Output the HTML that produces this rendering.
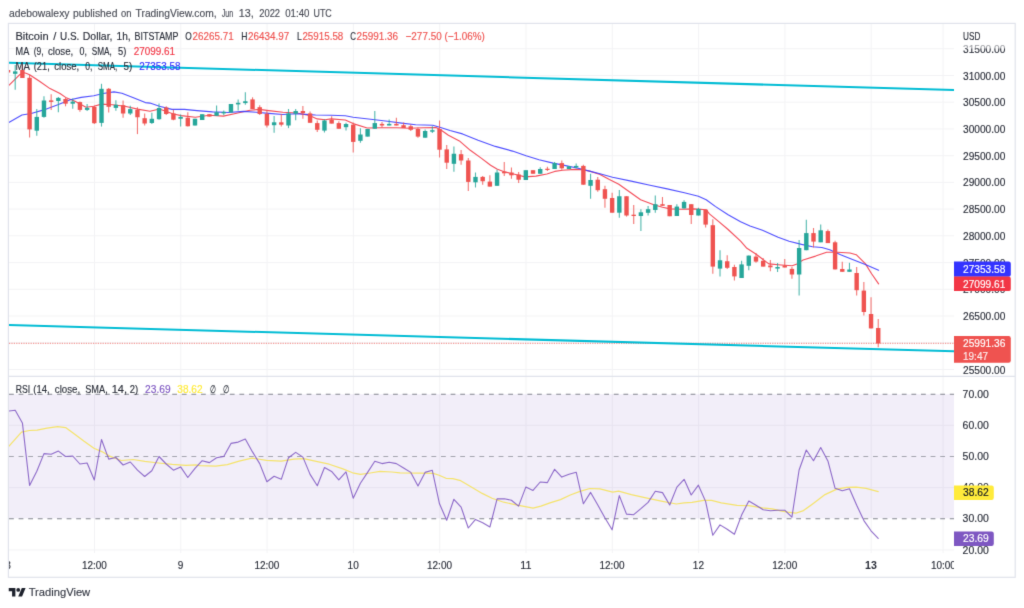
<!DOCTYPE html>
<html lang="en"><head><meta charset="utf-8"><title>BTCUSD chart</title>
<style>html,body{margin:0;padding:0;background:#fff}body{width:1024px;height:608px;overflow:hidden}svg{display:block}text{font-family:"Liberation Sans",Arial,sans-serif}</style></head><body>
<svg width="1024" height="608" viewBox="0 0 1024 608">
<rect width="1024" height="608" fill="#fff"/>
<filter id="soft" color-interpolation-filters="sRGB" x="0" y="0" width="100%" height="100%" filterUnits="userSpaceOnUse"><feConvolveMatrix order="3" kernelMatrix="0.0113 0.0838 0.0113 0.0838 0.6193 0.0838 0.0113 0.0838 0.0113" divisor="1" edgeMode="duplicate" preserveAlpha="true"/></filter><g filter="url(#soft)"><rect width="1024" height="608" fill="#fff"/>
<defs><clipPath id="plot"><rect x="9" y="24" width="945" height="352"/></clipPath><clipPath id="rsi"><rect x="9" y="377" width="945" height="173"/></clipPath><clipPath id="taxis"><rect x="9" y="551" width="945" height="26"/></clipPath></defs>
<line x1="94.5" y1="24" x2="94.5" y2="376" stroke="#f3f3f5" stroke-width="1"/>
<line x1="94.5" y1="377" x2="94.5" y2="553" stroke="#f3f3f5" stroke-width="1"/>
<line x1="180.8" y1="24" x2="180.8" y2="376" stroke="#f3f3f5" stroke-width="1"/>
<line x1="180.8" y1="377" x2="180.8" y2="553" stroke="#f3f3f5" stroke-width="1"/>
<line x1="267.1" y1="24" x2="267.1" y2="376" stroke="#f3f3f5" stroke-width="1"/>
<line x1="267.1" y1="377" x2="267.1" y2="553" stroke="#f3f3f5" stroke-width="1"/>
<line x1="353.4" y1="24" x2="353.4" y2="376" stroke="#f3f3f5" stroke-width="1"/>
<line x1="353.4" y1="377" x2="353.4" y2="553" stroke="#f3f3f5" stroke-width="1"/>
<line x1="439.7" y1="24" x2="439.7" y2="376" stroke="#f3f3f5" stroke-width="1"/>
<line x1="439.7" y1="377" x2="439.7" y2="553" stroke="#f3f3f5" stroke-width="1"/>
<line x1="526.0" y1="24" x2="526.0" y2="376" stroke="#f3f3f5" stroke-width="1"/>
<line x1="526.0" y1="377" x2="526.0" y2="553" stroke="#f3f3f5" stroke-width="1"/>
<line x1="612.3" y1="24" x2="612.3" y2="376" stroke="#f3f3f5" stroke-width="1"/>
<line x1="612.3" y1="377" x2="612.3" y2="553" stroke="#f3f3f5" stroke-width="1"/>
<line x1="698.6" y1="24" x2="698.6" y2="376" stroke="#f3f3f5" stroke-width="1"/>
<line x1="698.6" y1="377" x2="698.6" y2="553" stroke="#f3f3f5" stroke-width="1"/>
<line x1="784.9" y1="24" x2="784.9" y2="376" stroke="#f3f3f5" stroke-width="1"/>
<line x1="784.9" y1="377" x2="784.9" y2="553" stroke="#f3f3f5" stroke-width="1"/>
<line x1="871.2" y1="24" x2="871.2" y2="376" stroke="#f3f3f5" stroke-width="1"/>
<line x1="871.2" y1="377" x2="871.2" y2="553" stroke="#f3f3f5" stroke-width="1"/>
<line x1="943.1" y1="24" x2="943.1" y2="376" stroke="#f3f3f5" stroke-width="1"/>
<line x1="943.1" y1="377" x2="943.1" y2="553" stroke="#f3f3f5" stroke-width="1"/>
<line x1="9" y1="369.5" x2="954" y2="369.5" stroke="#f3f3f5" stroke-width="1"/>
<line x1="9" y1="342.8" x2="954" y2="342.8" stroke="#f3f3f5" stroke-width="1"/>
<line x1="9" y1="316.0" x2="954" y2="316.0" stroke="#f3f3f5" stroke-width="1"/>
<line x1="9" y1="289.3" x2="954" y2="289.3" stroke="#f3f3f5" stroke-width="1"/>
<line x1="9" y1="262.6" x2="954" y2="262.6" stroke="#f3f3f5" stroke-width="1"/>
<line x1="9" y1="235.8" x2="954" y2="235.8" stroke="#f3f3f5" stroke-width="1"/>
<line x1="9" y1="209.1" x2="954" y2="209.1" stroke="#f3f3f5" stroke-width="1"/>
<line x1="9" y1="182.4" x2="954" y2="182.4" stroke="#f3f3f5" stroke-width="1"/>
<line x1="9" y1="155.7" x2="954" y2="155.7" stroke="#f3f3f5" stroke-width="1"/>
<line x1="9" y1="128.9" x2="954" y2="128.9" stroke="#f3f3f5" stroke-width="1"/>
<line x1="9" y1="102.2" x2="954" y2="102.2" stroke="#f3f3f5" stroke-width="1"/>
<line x1="9" y1="75.5" x2="954" y2="75.5" stroke="#f3f3f5" stroke-width="1"/>
<line x1="9" y1="48.7" x2="954" y2="48.7" stroke="#f3f3f5" stroke-width="1"/>
<line x1="9" y1="425.3" x2="954" y2="425.3" stroke="#f3f3f5" stroke-width="1"/>
<line x1="9" y1="487.6" x2="954" y2="487.6" stroke="#f3f3f5" stroke-width="1"/>
<line x1="9" y1="549.9" x2="954" y2="549.9" stroke="#f3f3f5" stroke-width="1"/>
<rect x="9" y="394.2" width="945" height="124.2" fill="#7e57c2" fill-opacity="0.1"/>
<line x1="9" y1="394.2" x2="954" y2="394.2" stroke="#82858f" stroke-opacity="1" stroke-width="1.05" stroke-dasharray="4.8 4.8" stroke-dashoffset="0"/>
<line x1="9" y1="456.5" x2="954" y2="456.5" stroke="#82858f" stroke-opacity="0.7" stroke-width="1.05" stroke-dasharray="4.8 4.8" stroke-dashoffset="0"/>
<line x1="9" y1="518.7" x2="954" y2="518.7" stroke="#82858f" stroke-opacity="1" stroke-width="1.05" stroke-dasharray="4.8 4.8" stroke-dashoffset="0"/>
<text x="963.0" y="373.5" font-size="10.6" fill="#2b2f3a" stroke="#2b2f3a" stroke-width="0.15" textLength="42.3" lengthAdjust="spacingAndGlyphs">25500.00</text>
<text x="963.0" y="346.8" font-size="10.6" fill="#2b2f3a" stroke="#2b2f3a" stroke-width="0.15" textLength="42.3" lengthAdjust="spacingAndGlyphs">26000.00</text>
<text x="963.0" y="320.0" font-size="10.6" fill="#2b2f3a" stroke="#2b2f3a" stroke-width="0.15" textLength="42.3" lengthAdjust="spacingAndGlyphs">26500.00</text>
<text x="963.0" y="293.3" font-size="10.6" fill="#2b2f3a" stroke="#2b2f3a" stroke-width="0.15" textLength="42.3" lengthAdjust="spacingAndGlyphs">27000.00</text>
<text x="963.0" y="266.6" font-size="10.6" fill="#2b2f3a" stroke="#2b2f3a" stroke-width="0.15" textLength="42.3" lengthAdjust="spacingAndGlyphs">27500.00</text>
<text x="963.0" y="239.8" font-size="10.6" fill="#2b2f3a" stroke="#2b2f3a" stroke-width="0.15" textLength="42.3" lengthAdjust="spacingAndGlyphs">28000.00</text>
<text x="963.0" y="213.1" font-size="10.6" fill="#2b2f3a" stroke="#2b2f3a" stroke-width="0.15" textLength="42.3" lengthAdjust="spacingAndGlyphs">28500.00</text>
<text x="963.0" y="186.4" font-size="10.6" fill="#2b2f3a" stroke="#2b2f3a" stroke-width="0.15" textLength="42.3" lengthAdjust="spacingAndGlyphs">29000.00</text>
<text x="963.0" y="159.7" font-size="10.6" fill="#2b2f3a" stroke="#2b2f3a" stroke-width="0.15" textLength="42.3" lengthAdjust="spacingAndGlyphs">29500.00</text>
<text x="963.0" y="132.9" font-size="10.6" fill="#2b2f3a" stroke="#2b2f3a" stroke-width="0.15" textLength="42.3" lengthAdjust="spacingAndGlyphs">30000.00</text>
<text x="963.0" y="106.2" font-size="10.6" fill="#2b2f3a" stroke="#2b2f3a" stroke-width="0.15" textLength="42.3" lengthAdjust="spacingAndGlyphs">30500.00</text>
<text x="963.0" y="79.5" font-size="10.6" fill="#2b2f3a" stroke="#2b2f3a" stroke-width="0.15" textLength="42.3" lengthAdjust="spacingAndGlyphs">31000.00</text>
<text x="963.0" y="52.7" font-size="10.6" fill="#2b2f3a" stroke="#2b2f3a" stroke-width="0.15" textLength="42.3" lengthAdjust="spacingAndGlyphs">31500.00</text>
<rect x="960" y="28" width="50" height="20.5" fill="#fff" fill-opacity="0.55"/>
<text x="963.0" y="39.9" font-size="10.6" fill="#2b2f3a" stroke="#2b2f3a" stroke-width="0.15" textLength="17.3" lengthAdjust="spacingAndGlyphs">USD</text>
<text x="962.6" y="397.8" font-size="10.6" fill="#2b2f3a" stroke="#2b2f3a" stroke-width="0.15" textLength="26.2" lengthAdjust="spacingAndGlyphs">70.00</text>
<text x="962.6" y="428.9" font-size="10.6" fill="#2b2f3a" stroke="#2b2f3a" stroke-width="0.15" textLength="26.2" lengthAdjust="spacingAndGlyphs">60.00</text>
<text x="962.6" y="460.1" font-size="10.6" fill="#2b2f3a" stroke="#2b2f3a" stroke-width="0.15" textLength="26.2" lengthAdjust="spacingAndGlyphs">50.00</text>
<text x="962.6" y="491.2" font-size="10.6" fill="#2b2f3a" stroke="#2b2f3a" stroke-width="0.15" textLength="26.2" lengthAdjust="spacingAndGlyphs">40.00</text>
<text x="962.6" y="522.3" font-size="10.6" fill="#2b2f3a" stroke="#2b2f3a" stroke-width="0.15" textLength="26.2" lengthAdjust="spacingAndGlyphs">30.00</text>
<text x="962.6" y="553.5" font-size="10.6" fill="#2b2f3a" stroke="#2b2f3a" stroke-width="0.15" textLength="26.2" lengthAdjust="spacingAndGlyphs">20.00</text>
<g clip-path="url(#plot)">
<polyline fill="none" stroke="#f23645" stroke-width="1.1" stroke-opacity="0.9" stroke-linejoin="round" stroke-linecap="round" points="8.9,85.3 19.7,74.7 23.4,72.6 26.0,73.2 29.6,74.7 39.5,81.3 50.0,88.6 60.0,93.5 65.6,97.4 75.0,101.3 86.0,107.2 93.8,106.3 101.5,104.1 112.5,104.8 125.0,106.3 137.5,109.1 150.0,111.2 159.4,109.0 173.4,114.0 181.2,115.6 195.3,117.2 209.4,115.3 223.4,116.1 234.4,113.8 250.0,110.3 259.4,109.4 268.8,110.6 282.8,112.2 296.9,113.0 309.4,115.5 317.2,118.9 325.0,119.7 331.2,118.9 345.3,120.0 353.1,123.6 367.2,128.0 381.2,127.8 396.9,127.8 409.4,128.3 423.4,127.8 436.0,127.5 440.6,129.8 448.4,135.3 459.4,140.9 470.3,150.3 481.2,158.1 490.6,165.2 496.9,169.0 504.7,171.9 515.6,174.5 525.0,176.9 535.9,176.1 546.9,174.0 554.7,171.4 562.5,170.3 575.0,169.4 582.8,169.8 590.6,171.4 600.0,174.5 609.4,179.5 618.8,184.2 629.7,192.0 640.6,199.8 653.1,204.5 662.5,207.3 670.3,208.9 681.2,209.2 693.8,208.9 706.2,209.7 709.4,213.9 718.8,221.7 728.1,229.5 740.6,241.2 746.9,248.3 756.2,254.2 768.8,263.9 781.2,265.0 792.2,265.8 796.9,263.9 803.1,260.0 815.6,256.1 826.6,252.2 837.5,252.2 850.0,253.0 856.2,254.7 865.3,263.6 871.6,273.8 878.6,283.9"/>
<polyline fill="none" stroke="#3a3aff" stroke-width="1.1" stroke-opacity="0.9" stroke-linejoin="round" stroke-linecap="round" points="8.8,122.4 21.9,115.0 31.2,113.5 43.8,109.9 57.8,104.8 70.3,99.8 81.2,97.4 93.8,95.8 103.0,93.5 114.0,91.9 121.9,93.2 132.8,97.4 145.3,102.6 150.0,103.1 159.4,106.2 171.9,109.4 184.4,109.4 196.9,110.6 212.5,111.9 228.1,112.5 243.8,111.4 256.2,112.2 268.8,113.4 282.8,114.5 296.9,113.8 309.4,114.6 315.6,115.0 331.2,115.3 345.3,115.8 353.1,117.3 375.0,119.7 387.5,121.2 401.6,123.1 415.6,124.7 432.8,125.2 440.6,127.5 450.0,130.5 462.5,133.9 478.1,140.2 495.3,146.4 512.5,151.1 526.1,155.8 539.0,159.7 553.1,163.1 565.6,165.6 578.1,168.3 590.6,171.4 600.0,173.8 612.5,177.2 631.2,181.1 650.0,185.3 667.2,188.9 684.4,192.8 698.4,196.2 706.2,199.8 715.6,206.6 728.1,214.7 740.6,221.7 750.0,225.9 762.5,230.3 778.1,237.3 789.1,241.2 801.6,244.4 812.5,246.7 821.9,247.5 829.7,249.8 840.6,254.7 850.0,258.4 865.3,264.4 878.6,270.3"/>
<line x1="8.01" y1="70" x2="8.01" y2="72.5" stroke="#ef5350" stroke-width="1.1" stroke-opacity="0.8"/>
<rect x="5.81" y="70" width="4.4" height="2.50" fill="#ef5350"/>
<line x1="15.20" y1="64.9" x2="15.20" y2="89.7" stroke="#26a69a" stroke-width="1.1" stroke-opacity="0.8"/>
<rect x="13.00" y="71.4" width="4.4" height="2.40" fill="#26a69a"/>
<line x1="22.39" y1="64.2" x2="22.39" y2="78" stroke="#ef5350" stroke-width="1.1" stroke-opacity="0.8"/>
<rect x="20.19" y="70" width="4.4" height="8.00" fill="#ef5350"/>
<line x1="29.58" y1="75" x2="29.58" y2="137.6" stroke="#ef5350" stroke-width="1.1" stroke-opacity="0.8"/>
<rect x="27.38" y="77.8" width="4.4" height="51.60" fill="#ef5350"/>
<line x1="36.78" y1="109.1" x2="36.78" y2="135.7" stroke="#26a69a" stroke-width="1.1" stroke-opacity="0.8"/>
<rect x="34.58" y="116.9" width="4.4" height="13.80" fill="#26a69a"/>
<line x1="43.97" y1="96.3" x2="43.97" y2="117.7" stroke="#26a69a" stroke-width="1.1" stroke-opacity="0.8"/>
<rect x="41.77" y="100.5" width="4.4" height="16.40" fill="#26a69a"/>
<line x1="51.16" y1="94.3" x2="51.16" y2="109.9" stroke="#ef5350" stroke-width="1.1" stroke-opacity="0.8"/>
<rect x="48.96" y="100.4" width="4.4" height="1.50" fill="#ef5350"/>
<line x1="58.35" y1="96.9" x2="58.35" y2="112.25" stroke="#26a69a" stroke-width="1.1" stroke-opacity="0.8"/>
<rect x="56.15" y="97.9" width="4.4" height="3.10" fill="#26a69a"/>
<line x1="65.54" y1="97.9" x2="65.54" y2="106.3" stroke="#ef5350" stroke-width="1.1" stroke-opacity="0.8"/>
<rect x="63.34" y="99" width="4.4" height="4.70" fill="#ef5350"/>
<line x1="72.74" y1="98.5" x2="72.74" y2="108.8" stroke="#26a69a" stroke-width="1.1" stroke-opacity="0.8"/>
<rect x="70.54" y="101.6" width="4.4" height="2.10" fill="#26a69a"/>
<line x1="79.93" y1="101.6" x2="79.93" y2="111.8" stroke="#ef5350" stroke-width="1.1" stroke-opacity="0.8"/>
<rect x="77.73" y="102.1" width="4.4" height="7.80" fill="#ef5350"/>
<line x1="87.12" y1="104.1" x2="87.12" y2="111" stroke="#26a69a" stroke-width="1.1" stroke-opacity="0.8"/>
<rect x="84.92" y="107.9" width="4.4" height="2.00" fill="#26a69a"/>
<line x1="94.31" y1="105.7" x2="94.31" y2="124" stroke="#ef5350" stroke-width="1.1" stroke-opacity="0.8"/>
<rect x="92.11" y="106.8" width="4.4" height="16.40" fill="#ef5350"/>
<line x1="101.50" y1="83.8" x2="101.50" y2="126.6" stroke="#26a69a" stroke-width="1.1" stroke-opacity="0.8"/>
<rect x="99.30" y="88.8" width="4.4" height="34.10" fill="#26a69a"/>
<line x1="108.70" y1="88" x2="108.70" y2="112.6" stroke="#ef5350" stroke-width="1.1" stroke-opacity="0.8"/>
<rect x="106.50" y="88.8" width="4.4" height="18.00" fill="#ef5350"/>
<line x1="115.89" y1="100.2" x2="115.89" y2="110.7" stroke="#26a69a" stroke-width="1.1" stroke-opacity="0.8"/>
<rect x="113.69" y="104.75" width="4.4" height="3.15" fill="#26a69a"/>
<line x1="123.08" y1="100.5" x2="123.08" y2="117.7" stroke="#ef5350" stroke-width="1.1" stroke-opacity="0.8"/>
<rect x="120.88" y="105.2" width="4.4" height="8.30" fill="#ef5350"/>
<line x1="130.27" y1="105.7" x2="130.27" y2="115" stroke="#26a69a" stroke-width="1.1" stroke-opacity="0.8"/>
<rect x="128.07" y="109.1" width="4.4" height="4.40" fill="#26a69a"/>
<line x1="137.46" y1="107.25" x2="137.46" y2="134.1" stroke="#ef5350" stroke-width="1.1" stroke-opacity="0.8"/>
<rect x="135.26" y="109.9" width="4.4" height="7.35" fill="#ef5350"/>
<line x1="144.66" y1="113.5" x2="144.66" y2="125.5" stroke="#ef5350" stroke-width="1.1" stroke-opacity="0.8"/>
<rect x="142.46" y="118.2" width="4.4" height="5.30" fill="#ef5350"/>
<line x1="151.85" y1="112.8" x2="151.85" y2="124" stroke="#26a69a" stroke-width="1.1" stroke-opacity="0.8"/>
<rect x="149.65" y="118.8" width="4.4" height="4.20" fill="#26a69a"/>
<line x1="159.04" y1="103.6" x2="159.04" y2="119.7" stroke="#26a69a" stroke-width="1.1" stroke-opacity="0.8"/>
<rect x="156.84" y="108" width="4.4" height="11.20" fill="#26a69a"/>
<line x1="166.23" y1="106.25" x2="166.23" y2="115" stroke="#ef5350" stroke-width="1.1" stroke-opacity="0.8"/>
<rect x="164.03" y="107.5" width="4.4" height="6.50" fill="#ef5350"/>
<line x1="173.42" y1="109.8" x2="173.42" y2="120.3" stroke="#ef5350" stroke-width="1.1" stroke-opacity="0.8"/>
<rect x="171.22" y="113.4" width="4.4" height="6.30" fill="#ef5350"/>
<line x1="180.62" y1="114.5" x2="180.62" y2="126.6" stroke="#26a69a" stroke-width="1.1" stroke-opacity="0.8"/>
<rect x="178.42" y="116.9" width="4.4" height="1.85" fill="#26a69a"/>
<line x1="187.81" y1="112.2" x2="187.81" y2="126.6" stroke="#ef5350" stroke-width="1.1" stroke-opacity="0.8"/>
<rect x="185.61" y="117.7" width="4.4" height="8.55" fill="#ef5350"/>
<line x1="195.00" y1="118.75" x2="195.00" y2="125.5" stroke="#26a69a" stroke-width="1.1" stroke-opacity="0.8"/>
<rect x="192.80" y="118.75" width="4.4" height="6.75" fill="#26a69a"/>
<line x1="202.19" y1="114.2" x2="202.19" y2="120" stroke="#26a69a" stroke-width="1.1" stroke-opacity="0.8"/>
<rect x="199.99" y="114.2" width="4.4" height="5.80" fill="#26a69a"/>
<line x1="209.38" y1="114.2" x2="209.38" y2="116.6" stroke="#ef5350" stroke-width="1.1" stroke-opacity="0.8"/>
<rect x="207.18" y="114.2" width="4.4" height="2.40" fill="#ef5350"/>
<line x1="216.58" y1="105.6" x2="216.58" y2="115.8" stroke="#26a69a" stroke-width="1.1" stroke-opacity="0.8"/>
<rect x="214.38" y="112.2" width="4.4" height="3.60" fill="#26a69a"/>
<line x1="223.77" y1="110.6" x2="223.77" y2="115.3" stroke="#26a69a" stroke-width="1.1" stroke-opacity="0.8"/>
<rect x="221.57" y="111.9" width="4.4" height="1.50" fill="#26a69a"/>
<line x1="230.96" y1="104" x2="230.96" y2="112.5" stroke="#26a69a" stroke-width="1.1" stroke-opacity="0.8"/>
<rect x="228.76" y="104" width="4.4" height="8.50" fill="#26a69a"/>
<line x1="238.15" y1="99.4" x2="238.15" y2="110.6" stroke="#26a69a" stroke-width="1.1" stroke-opacity="0.8"/>
<rect x="235.95" y="102.8" width="4.4" height="1.60" fill="#26a69a"/>
<line x1="245.34" y1="92.3" x2="245.34" y2="104.7" stroke="#26a69a" stroke-width="1.1" stroke-opacity="0.8"/>
<rect x="243.14" y="101.25" width="4.4" height="1.85" fill="#26a69a"/>
<line x1="252.54" y1="97.3" x2="252.54" y2="109" stroke="#ef5350" stroke-width="1.1" stroke-opacity="0.8"/>
<rect x="250.34" y="99.4" width="4.4" height="9.60" fill="#ef5350"/>
<line x1="259.73" y1="105.2" x2="259.73" y2="115" stroke="#ef5350" stroke-width="1.1" stroke-opacity="0.8"/>
<rect x="257.53" y="107.2" width="4.4" height="6.80" fill="#ef5350"/>
<line x1="266.92" y1="111" x2="266.92" y2="127.5" stroke="#ef5350" stroke-width="1.1" stroke-opacity="0.8"/>
<rect x="264.72" y="113.75" width="4.4" height="11.75" fill="#ef5350"/>
<line x1="274.11" y1="116" x2="274.11" y2="132.8" stroke="#26a69a" stroke-width="1.1" stroke-opacity="0.8"/>
<rect x="271.91" y="122.3" width="4.4" height="2.90" fill="#26a69a"/>
<line x1="281.30" y1="114" x2="281.30" y2="126.6" stroke="#ef5350" stroke-width="1.1" stroke-opacity="0.8"/>
<rect x="279.10" y="122.3" width="4.4" height="2.40" fill="#ef5350"/>
<line x1="288.50" y1="109" x2="288.50" y2="128.1" stroke="#26a69a" stroke-width="1.1" stroke-opacity="0.8"/>
<rect x="286.30" y="113.4" width="4.4" height="12.10" fill="#26a69a"/>
<line x1="295.69" y1="109" x2="295.69" y2="120.3" stroke="#26a69a" stroke-width="1.1" stroke-opacity="0.8"/>
<rect x="293.49" y="111" width="4.4" height="2.75" fill="#26a69a"/>
<line x1="302.88" y1="106" x2="302.88" y2="118.8" stroke="#ef5350" stroke-width="1.1" stroke-opacity="0.8"/>
<rect x="300.68" y="111" width="4.4" height="2.20" fill="#ef5350"/>
<line x1="310.07" y1="111.6" x2="310.07" y2="122.8" stroke="#ef5350" stroke-width="1.1" stroke-opacity="0.8"/>
<rect x="307.87" y="113.4" width="4.4" height="9.40" fill="#ef5350"/>
<line x1="317.26" y1="120.5" x2="317.26" y2="131.9" stroke="#ef5350" stroke-width="1.1" stroke-opacity="0.8"/>
<rect x="315.06" y="123.1" width="4.4" height="6.70" fill="#ef5350"/>
<line x1="324.46" y1="119.4" x2="324.46" y2="132.5" stroke="#26a69a" stroke-width="1.1" stroke-opacity="0.8"/>
<rect x="322.26" y="120.5" width="4.4" height="10.10" fill="#26a69a"/>
<line x1="331.65" y1="116.25" x2="331.65" y2="123.6" stroke="#ef5350" stroke-width="1.1" stroke-opacity="0.8"/>
<rect x="329.45" y="120" width="4.4" height="3.60" fill="#ef5350"/>
<line x1="338.84" y1="121.25" x2="338.84" y2="128.75" stroke="#ef5350" stroke-width="1.1" stroke-opacity="0.8"/>
<rect x="336.64" y="123.1" width="4.4" height="5.65" fill="#ef5350"/>
<line x1="346.03" y1="122.8" x2="346.03" y2="130.6" stroke="#26a69a" stroke-width="1.1" stroke-opacity="0.8"/>
<rect x="343.83" y="124" width="4.4" height="3.20" fill="#26a69a"/>
<line x1="353.22" y1="122.5" x2="353.22" y2="152.5" stroke="#ef5350" stroke-width="1.1" stroke-opacity="0.8"/>
<rect x="351.02" y="124.7" width="4.4" height="17.20" fill="#ef5350"/>
<line x1="360.42" y1="128.3" x2="360.42" y2="142.8" stroke="#26a69a" stroke-width="1.1" stroke-opacity="0.8"/>
<rect x="358.22" y="134.5" width="4.4" height="6.30" fill="#26a69a"/>
<line x1="367.61" y1="129" x2="367.61" y2="136.6" stroke="#26a69a" stroke-width="1.1" stroke-opacity="0.8"/>
<rect x="365.41" y="129" width="4.4" height="7.60" fill="#26a69a"/>
<line x1="374.80" y1="111.1" x2="374.80" y2="128.75" stroke="#26a69a" stroke-width="1.1" stroke-opacity="0.8"/>
<rect x="372.60" y="123.1" width="4.4" height="5.65" fill="#26a69a"/>
<line x1="381.99" y1="122" x2="381.99" y2="127.5" stroke="#ef5350" stroke-width="1.1" stroke-opacity="0.8"/>
<rect x="379.79" y="123.9" width="4.4" height="1.60" fill="#ef5350"/>
<line x1="389.18" y1="119.4" x2="389.18" y2="125.5" stroke="#26a69a" stroke-width="1.1" stroke-opacity="0.8"/>
<rect x="386.98" y="123.9" width="4.4" height="1.60" fill="#26a69a"/>
<line x1="396.38" y1="117.8" x2="396.38" y2="125.5" stroke="#ef5350" stroke-width="1.1" stroke-opacity="0.8"/>
<rect x="394.18" y="123.9" width="4.4" height="1.60" fill="#ef5350"/>
<line x1="403.57" y1="122.5" x2="403.57" y2="128" stroke="#ef5350" stroke-width="1.1" stroke-opacity="0.8"/>
<rect x="401.37" y="125.2" width="4.4" height="2.80" fill="#ef5350"/>
<line x1="410.76" y1="124.4" x2="410.76" y2="131" stroke="#ef5350" stroke-width="1.1" stroke-opacity="0.8"/>
<rect x="408.56" y="126.25" width="4.4" height="3.55" fill="#ef5350"/>
<line x1="417.95" y1="127.5" x2="417.95" y2="137.7" stroke="#ef5350" stroke-width="1.1" stroke-opacity="0.8"/>
<rect x="415.75" y="129" width="4.4" height="7.60" fill="#ef5350"/>
<line x1="425.14" y1="129.4" x2="425.14" y2="137.7" stroke="#26a69a" stroke-width="1.1" stroke-opacity="0.8"/>
<rect x="422.94" y="131" width="4.4" height="6.70" fill="#26a69a"/>
<line x1="432.34" y1="126.25" x2="432.34" y2="133" stroke="#26a69a" stroke-width="1.1" stroke-opacity="0.8"/>
<rect x="430.14" y="130.2" width="4.4" height="1.50" fill="#26a69a"/>
<line x1="439.53" y1="120.5" x2="439.53" y2="157.5" stroke="#ef5350" stroke-width="1.1" stroke-opacity="0.8"/>
<rect x="437.33" y="129" width="4.4" height="20.70" fill="#ef5350"/>
<line x1="446.72" y1="145" x2="446.72" y2="168.9" stroke="#ef5350" stroke-width="1.1" stroke-opacity="0.8"/>
<rect x="444.52" y="149.4" width="4.4" height="13.30" fill="#ef5350"/>
<line x1="453.91" y1="146.5" x2="453.91" y2="171.75" stroke="#26a69a" stroke-width="1.1" stroke-opacity="0.8"/>
<rect x="451.71" y="153.75" width="4.4" height="10.05" fill="#26a69a"/>
<line x1="461.10" y1="150" x2="461.10" y2="164.7" stroke="#ef5350" stroke-width="1.1" stroke-opacity="0.8"/>
<rect x="458.90" y="154.2" width="4.4" height="6.30" fill="#ef5350"/>
<line x1="468.30" y1="158.1" x2="468.30" y2="190.9" stroke="#ef5350" stroke-width="1.1" stroke-opacity="0.8"/>
<rect x="466.10" y="160.5" width="4.4" height="21.40" fill="#ef5350"/>
<line x1="475.49" y1="172.5" x2="475.49" y2="187.5" stroke="#26a69a" stroke-width="1.1" stroke-opacity="0.8"/>
<rect x="473.29" y="176.9" width="4.4" height="5.40" fill="#26a69a"/>
<line x1="482.68" y1="176.1" x2="482.68" y2="184.7" stroke="#ef5350" stroke-width="1.1" stroke-opacity="0.8"/>
<rect x="480.48" y="176.9" width="4.4" height="4.35" fill="#ef5350"/>
<line x1="489.87" y1="175.3" x2="489.87" y2="186.6" stroke="#ef5350" stroke-width="1.1" stroke-opacity="0.8"/>
<rect x="487.67" y="181.6" width="4.4" height="5.00" fill="#ef5350"/>
<line x1="497.06" y1="169.8" x2="497.06" y2="185.8" stroke="#26a69a" stroke-width="1.1" stroke-opacity="0.8"/>
<rect x="494.86" y="172.5" width="4.4" height="13.30" fill="#26a69a"/>
<line x1="504.26" y1="162" x2="504.26" y2="176.1" stroke="#ef5350" stroke-width="1.1" stroke-opacity="0.8"/>
<rect x="502.06" y="171.7" width="4.4" height="1.60" fill="#ef5350"/>
<line x1="511.45" y1="167.5" x2="511.45" y2="178.75" stroke="#ef5350" stroke-width="1.1" stroke-opacity="0.8"/>
<rect x="509.25" y="172.5" width="4.4" height="2.80" fill="#ef5350"/>
<line x1="518.64" y1="171.9" x2="518.64" y2="183.1" stroke="#ef5350" stroke-width="1.1" stroke-opacity="0.8"/>
<rect x="516.44" y="174.5" width="4.4" height="5.20" fill="#ef5350"/>
<line x1="525.83" y1="170.2" x2="525.83" y2="180" stroke="#26a69a" stroke-width="1.1" stroke-opacity="0.8"/>
<rect x="523.63" y="170.2" width="4.4" height="9.80" fill="#26a69a"/>
<line x1="533.02" y1="170.2" x2="533.02" y2="173.75" stroke="#ef5350" stroke-width="1.1" stroke-opacity="0.8"/>
<rect x="530.82" y="170.2" width="4.4" height="3.55" fill="#ef5350"/>
<line x1="540.22" y1="167.2" x2="540.22" y2="173.75" stroke="#26a69a" stroke-width="1.1" stroke-opacity="0.8"/>
<rect x="538.02" y="169" width="4.4" height="4.75" fill="#26a69a"/>
<line x1="547.41" y1="166.7" x2="547.41" y2="171" stroke="#ef5350" stroke-width="1.1" stroke-opacity="0.8"/>
<rect x="545.21" y="168.75" width="4.4" height="1.20" fill="#ef5350"/>
<line x1="554.60" y1="162" x2="554.60" y2="169" stroke="#26a69a" stroke-width="1.1" stroke-opacity="0.8"/>
<rect x="552.40" y="163.1" width="4.4" height="5.90" fill="#26a69a"/>
<line x1="561.79" y1="160.5" x2="561.79" y2="169.8" stroke="#ef5350" stroke-width="1.1" stroke-opacity="0.8"/>
<rect x="559.59" y="163.1" width="4.4" height="5.20" fill="#ef5350"/>
<line x1="568.98" y1="166.25" x2="568.98" y2="169" stroke="#26a69a" stroke-width="1.1" stroke-opacity="0.8"/>
<rect x="566.78" y="166.25" width="4.4" height="2.75" fill="#26a69a"/>
<line x1="576.18" y1="163.6" x2="576.18" y2="168.3" stroke="#26a69a" stroke-width="1.1" stroke-opacity="0.8"/>
<rect x="573.98" y="165.9" width="4.4" height="1.60" fill="#26a69a"/>
<line x1="583.37" y1="164.7" x2="583.37" y2="184.7" stroke="#ef5350" stroke-width="1.1" stroke-opacity="0.8"/>
<rect x="581.17" y="165.9" width="4.4" height="18.80" fill="#ef5350"/>
<line x1="590.56" y1="173.75" x2="590.56" y2="198.75" stroke="#26a69a" stroke-width="1.1" stroke-opacity="0.8"/>
<rect x="588.36" y="180" width="4.4" height="5.80" fill="#26a69a"/>
<line x1="597.75" y1="176.9" x2="597.75" y2="191.7" stroke="#ef5350" stroke-width="1.1" stroke-opacity="0.8"/>
<rect x="595.55" y="179.7" width="4.4" height="10.50" fill="#ef5350"/>
<line x1="604.94" y1="185.85" x2="604.94" y2="207.7" stroke="#ef5350" stroke-width="1.1" stroke-opacity="0.8"/>
<rect x="602.74" y="189.2" width="4.4" height="9.55" fill="#ef5350"/>
<line x1="612.14" y1="192.8" x2="612.14" y2="212.7" stroke="#ef5350" stroke-width="1.1" stroke-opacity="0.8"/>
<rect x="609.94" y="198" width="4.4" height="14.70" fill="#ef5350"/>
<line x1="619.33" y1="190" x2="619.33" y2="217.8" stroke="#26a69a" stroke-width="1.1" stroke-opacity="0.8"/>
<rect x="617.13" y="196.25" width="4.4" height="16.45" fill="#26a69a"/>
<line x1="626.52" y1="196.25" x2="626.52" y2="216.6" stroke="#ef5350" stroke-width="1.1" stroke-opacity="0.8"/>
<rect x="624.32" y="196.25" width="4.4" height="19.25" fill="#ef5350"/>
<line x1="633.71" y1="205" x2="633.71" y2="224" stroke="#ef5350" stroke-width="1.1" stroke-opacity="0.8"/>
<rect x="631.51" y="214.7" width="4.4" height="1.30" fill="#ef5350"/>
<line x1="640.90" y1="209.2" x2="640.90" y2="231.1" stroke="#26a69a" stroke-width="1.1" stroke-opacity="0.8"/>
<rect x="638.70" y="212.3" width="4.4" height="3.70" fill="#26a69a"/>
<line x1="648.10" y1="206.1" x2="648.10" y2="215.5" stroke="#26a69a" stroke-width="1.1" stroke-opacity="0.8"/>
<rect x="645.90" y="209.2" width="4.4" height="3.60" fill="#26a69a"/>
<line x1="655.29" y1="195.5" x2="655.29" y2="212.7" stroke="#26a69a" stroke-width="1.1" stroke-opacity="0.8"/>
<rect x="653.09" y="204.2" width="4.4" height="5.80" fill="#26a69a"/>
<line x1="662.48" y1="197" x2="662.48" y2="205.8" stroke="#ef5350" stroke-width="1.1" stroke-opacity="0.8"/>
<rect x="660.28" y="204.2" width="4.4" height="1.60" fill="#ef5350"/>
<line x1="669.67" y1="205" x2="669.67" y2="216.25" stroke="#ef5350" stroke-width="1.1" stroke-opacity="0.8"/>
<rect x="667.47" y="205" width="4.4" height="11.25" fill="#ef5350"/>
<line x1="676.86" y1="204.2" x2="676.86" y2="216" stroke="#26a69a" stroke-width="1.1" stroke-opacity="0.8"/>
<rect x="674.66" y="206.6" width="4.4" height="9.40" fill="#26a69a"/>
<line x1="684.06" y1="200.3" x2="684.06" y2="208.4" stroke="#26a69a" stroke-width="1.1" stroke-opacity="0.8"/>
<rect x="681.86" y="201.9" width="4.4" height="6.50" fill="#26a69a"/>
<line x1="691.25" y1="204.2" x2="691.25" y2="224" stroke="#ef5350" stroke-width="1.1" stroke-opacity="0.8"/>
<rect x="689.05" y="204.2" width="4.4" height="10.80" fill="#ef5350"/>
<line x1="698.44" y1="207.7" x2="698.44" y2="215.5" stroke="#26a69a" stroke-width="1.1" stroke-opacity="0.8"/>
<rect x="696.24" y="208.9" width="4.4" height="6.60" fill="#26a69a"/>
<line x1="705.63" y1="209.7" x2="705.63" y2="227.5" stroke="#ef5350" stroke-width="1.1" stroke-opacity="0.8"/>
<rect x="703.43" y="209.7" width="4.4" height="14.90" fill="#ef5350"/>
<line x1="712.82" y1="219.2" x2="712.82" y2="273.75" stroke="#ef5350" stroke-width="1.1" stroke-opacity="0.8"/>
<rect x="710.62" y="225.2" width="4.4" height="41.40" fill="#ef5350"/>
<line x1="720.02" y1="250.3" x2="720.02" y2="276.4" stroke="#26a69a" stroke-width="1.1" stroke-opacity="0.8"/>
<rect x="717.82" y="260.3" width="4.4" height="8.30" fill="#26a69a"/>
<line x1="727.21" y1="255.3" x2="727.21" y2="268.9" stroke="#ef5350" stroke-width="1.1" stroke-opacity="0.8"/>
<rect x="725.01" y="261.25" width="4.4" height="6.55" fill="#ef5350"/>
<line x1="734.40" y1="264.7" x2="734.40" y2="280.6" stroke="#ef5350" stroke-width="1.1" stroke-opacity="0.8"/>
<rect x="732.20" y="267" width="4.4" height="9.40" fill="#ef5350"/>
<line x1="741.59" y1="260.8" x2="741.59" y2="278" stroke="#26a69a" stroke-width="1.1" stroke-opacity="0.8"/>
<rect x="739.39" y="264.4" width="4.4" height="13.60" fill="#26a69a"/>
<line x1="748.78" y1="255.6" x2="748.78" y2="270.2" stroke="#26a69a" stroke-width="1.1" stroke-opacity="0.8"/>
<rect x="746.58" y="255.6" width="4.4" height="10.20" fill="#26a69a"/>
<line x1="755.98" y1="253" x2="755.98" y2="262.7" stroke="#ef5350" stroke-width="1.1" stroke-opacity="0.8"/>
<rect x="753.78" y="256.6" width="4.4" height="5.00" fill="#ef5350"/>
<line x1="763.17" y1="258.1" x2="763.17" y2="266.6" stroke="#ef5350" stroke-width="1.1" stroke-opacity="0.8"/>
<rect x="760.97" y="260.8" width="4.4" height="5.80" fill="#ef5350"/>
<line x1="770.36" y1="260" x2="770.36" y2="271.25" stroke="#ef5350" stroke-width="1.1" stroke-opacity="0.8"/>
<rect x="768.16" y="265.5" width="4.4" height="1.80" fill="#ef5350"/>
<line x1="777.55" y1="263.1" x2="777.55" y2="272" stroke="#26a69a" stroke-width="1.1" stroke-opacity="0.8"/>
<rect x="775.35" y="267" width="4.4" height="1.60" fill="#26a69a"/>
<line x1="784.74" y1="258.9" x2="784.74" y2="267.5" stroke="#ef5350" stroke-width="1.1" stroke-opacity="0.8"/>
<rect x="782.54" y="265.5" width="4.4" height="2.00" fill="#ef5350"/>
<line x1="791.94" y1="267" x2="791.94" y2="278.75" stroke="#ef5350" stroke-width="1.1" stroke-opacity="0.8"/>
<rect x="789.74" y="268.9" width="4.4" height="5.60" fill="#ef5350"/>
<line x1="799.13" y1="240" x2="799.13" y2="295.6" stroke="#26a69a" stroke-width="1.1" stroke-opacity="0.8"/>
<rect x="796.93" y="248" width="4.4" height="26.50" fill="#26a69a"/>
<line x1="806.32" y1="219.8" x2="806.32" y2="250.2" stroke="#26a69a" stroke-width="1.1" stroke-opacity="0.8"/>
<rect x="804.12" y="233.1" width="4.4" height="17.10" fill="#26a69a"/>
<line x1="813.51" y1="228" x2="813.51" y2="247.5" stroke="#ef5350" stroke-width="1.1" stroke-opacity="0.8"/>
<rect x="811.31" y="233.1" width="4.4" height="8.50" fill="#ef5350"/>
<line x1="820.70" y1="224.4" x2="820.70" y2="242.3" stroke="#26a69a" stroke-width="1.1" stroke-opacity="0.8"/>
<rect x="818.50" y="230.3" width="4.4" height="12.00" fill="#26a69a"/>
<line x1="827.90" y1="229.5" x2="827.90" y2="243.1" stroke="#ef5350" stroke-width="1.1" stroke-opacity="0.8"/>
<rect x="825.70" y="231.1" width="4.4" height="12.00" fill="#ef5350"/>
<line x1="835.09" y1="240.8" x2="835.09" y2="269.4" stroke="#ef5350" stroke-width="1.1" stroke-opacity="0.8"/>
<rect x="832.89" y="242.3" width="4.4" height="27.10" fill="#ef5350"/>
<line x1="842.28" y1="261.7" x2="842.28" y2="271.8" stroke="#ef5350" stroke-width="1.1" stroke-opacity="0.8"/>
<rect x="840.08" y="269" width="4.4" height="2.80" fill="#ef5350"/>
<line x1="849.47" y1="262.8" x2="849.47" y2="271.8" stroke="#26a69a" stroke-width="1.1" stroke-opacity="0.8"/>
<rect x="847.27" y="269.5" width="4.4" height="2.30" fill="#26a69a"/>
<line x1="856.66" y1="267" x2="856.66" y2="295.6" stroke="#ef5350" stroke-width="1.1" stroke-opacity="0.8"/>
<rect x="854.46" y="273" width="4.4" height="17.20" fill="#ef5350"/>
<line x1="863.86" y1="281.9" x2="863.86" y2="315.6" stroke="#ef5350" stroke-width="1.1" stroke-opacity="0.8"/>
<rect x="861.66" y="290.6" width="4.4" height="21.40" fill="#ef5350"/>
<line x1="871.05" y1="297.2" x2="871.05" y2="328.4" stroke="#ef5350" stroke-width="1.1" stroke-opacity="0.8"/>
<rect x="868.85" y="314" width="4.4" height="14.40" fill="#ef5350"/>
<line x1="878.24" y1="319" x2="878.24" y2="347.2" stroke="#ef5350" stroke-width="1.1" stroke-opacity="0.8"/>
<rect x="876.04" y="328" width="4.4" height="15.50" fill="#ef5350"/>
<line x1="9" y1="343.4" x2="954" y2="343.4" stroke="#ef5350" stroke-width="1.2" stroke-opacity="0.6" stroke-dasharray="1.2 1.2"/>
<line x1="9" y1="62.8" x2="954" y2="90.1" stroke="#00bcd4" stroke-width="2.05"/>
<line x1="9" y1="325" x2="954" y2="351.3" stroke="#00bcd4" stroke-width="2.05"/>
</g>
<g clip-path="url(#rsi)">
<polyline fill="none" stroke="#f5e36b" stroke-width="1.2" stroke-opacity="1" stroke-linejoin="round" stroke-linecap="round" points="8.8,446.4 21.5,432.1 29.4,430.5 37.2,430.1 47.0,428.2 57.7,426.6 65.6,427.6 74.4,434.0 84.1,441.3 93.9,448.3 101.8,451.6 109.6,456.1 121.3,460.5 133.1,459.5 144.8,461.4 158.5,463.0 172.2,464.4 185.9,465.3 195.7,464.8 200.0,465.6 215.7,466.1 227.4,464.6 239.1,461.1 251.9,458.1 266.5,460.3 281.2,461.2 293.9,459.1 303.7,458.7 317.4,461.6 329.2,464.2 342.9,468.9 352.6,472.8 360.5,474.4 370.3,473.0 380.0,471.4 391.8,472.0 400.0,472.9 419.6,473.2 433.3,473.4 439.1,475.2 446.0,478.3 452.8,478.7 460.7,480.7 470.5,486.5 482.2,493.4 492.0,498.3 503.7,502.2 517.4,505.1 533.1,508.1 540.9,506.1 550.7,502.6 560.5,499.6 570.3,495.0 580.0,491.4 589.8,488.5 600.0,488.9 612.7,492.2 618.6,491.2 631.3,494.6 647.0,498.1 662.6,501.4 676.3,504.0 684.1,502.8 692.0,502.4 703.7,500.4 711.5,500.4 721.3,502.8 737.0,505.3 748.7,505.7 762.4,507.9 772.2,508.9 782.0,511.2 787.8,512.2 795.7,513.2 803.5,510.6 813.3,503.4 825.0,494.6 836.8,489.1 846.5,487.3 856.3,487.1 866.1,488.3 878.2,491.6"/>
<polyline fill="none" stroke="#7e57c2" stroke-width="1.1" stroke-opacity="0.88" stroke-linejoin="round" stroke-linecap="round" points="8.0,411.1 15.2,410.2 22.4,422.9 29.6,485.5 36.8,471.2 44.0,453.6 51.2,454.2 58.4,451.1 65.5,456.5 72.7,456.0 79.9,464.0 87.1,463.0 94.3,480.0 101.5,439.5 108.7,459.1 115.9,457.5 123.1,465.0 130.3,462.0 137.5,470.2 144.7,476.5 151.8,470.8 159.0,456.5 166.2,464.0 173.4,470.2 180.6,466.9 187.8,477.5 195.0,468.3 202.2,460.7 209.4,462.6 216.6,457.7 223.8,456.4 231.0,443.4 238.2,442.1 245.3,439.1 252.5,451.9 259.7,463.6 266.9,481.8 274.1,476.3 281.3,479.3 288.5,457.7 295.7,452.4 302.9,457.1 310.1,474.4 317.3,485.7 324.5,467.5 331.6,471.4 338.8,479.8 346.0,471.8 353.2,498.2 360.4,483.2 367.6,472.4 374.8,461.2 382.0,463.6 389.2,462.2 396.4,463.6 403.6,468.0 410.8,472.4 418.0,485.9 425.1,472.4 432.3,470.3 439.5,503.8 446.7,520.2 453.9,499.3 461.1,507.1 468.3,528.0 475.5,519.4 482.7,522.7 489.9,527.0 497.1,498.9 504.3,498.7 511.4,500.2 518.6,506.1 525.8,487.1 533.0,490.4 540.2,482.0 547.4,482.6 554.6,469.3 561.8,477.1 569.0,474.2 576.2,472.2 583.4,503.8 590.6,492.4 597.8,505.1 604.9,517.7 612.1,529.8 619.3,495.6 626.5,514.1 633.7,514.7 640.9,508.7 648.1,502.4 655.3,491.2 662.5,492.6 669.7,505.0 676.9,487.1 684.1,479.3 691.2,495.0 698.4,485.2 705.6,501.4 712.8,535.3 720.0,524.9 727.2,529.2 734.4,534.3 741.6,515.1 748.8,501.0 756.0,505.3 763.2,509.8 770.4,510.8 777.6,510.2 784.7,510.2 791.9,517.1 799.1,470.0 806.3,450.0 813.5,460.7 820.7,447.6 827.9,460.9 835.1,488.3 842.3,490.7 849.5,488.7 856.7,505.3 863.9,520.6 871.0,530.8 878.2,538.4"/>
</g>
<line x1="9" y1="376.3" x2="1015" y2="376.3" stroke="#e0e3eb" stroke-width="1.2"/>
<rect x="8.4" y="23.4" width="1006.8" height="553.9" fill="none" stroke="#e0e3eb" stroke-width="1.2"/>
<path d="M954 261.6H1008.6Q1010.8 261.6 1010.8 263.8V274.6Q1010.8 276.8 1008.6 276.8H954Z" fill="#3333ff"/>
<text x="963.0" y="273.1" font-size="10.6" fill="#fff" stroke="#fff" stroke-width="0.15" textLength="42.3" lengthAdjust="spacingAndGlyphs">27353.58</text>
<path d="M954 276.6H1008.6Q1010.8 276.6 1010.8 278.8V288.9Q1010.8 291.1 1008.6 291.1H954Z" fill="#f23645"/>
<text x="963.0" y="287.9" font-size="10.6" fill="#fff" stroke="#fff" stroke-width="0.15" textLength="42.3" lengthAdjust="spacingAndGlyphs">27099.61</text>
<path d="M954 336H1008.6Q1010.8 336 1010.8 338.2V360.5Q1010.8 362.7 1008.6 362.7H954Z" fill="#ef5350"/>
<text x="963.0" y="347.4" font-size="10.6" fill="#fff" stroke="#fff" stroke-width="0.15" textLength="42.3" lengthAdjust="spacingAndGlyphs">25991.36</text>
<text x="963.0" y="360.0" font-size="10.6" fill="#fff" stroke="#fff" stroke-width="0.15" textLength="25.0" lengthAdjust="spacingAndGlyphs" fill-opacity="0.85">19:47</text>
<path d="M954 485.5H991.6Q993.8 485.5 993.8 487.7V497.8Q993.8 500 991.6 500H954Z" fill="#ffeb3b"/>
<text x="963.0" y="496.4" font-size="10.6" fill="#131722" stroke="#131722" stroke-width="0.15" textLength="25.8" lengthAdjust="spacingAndGlyphs">38.62</text>
<path d="M954 531.5H991.6Q993.8 531.5 993.8 533.7V543.8Q993.8 546 991.6 546H954Z" fill="#7e57c2"/>
<text x="963.0" y="542.4" font-size="10.6" fill="#fff" stroke="#fff" stroke-width="0.15" textLength="25.8" lengthAdjust="spacingAndGlyphs">23.69</text>
<g clip-path="url(#taxis)">
<text x="5.2" y="569.0" font-size="10.6" fill="#2b2f3a" stroke="#2b2f3a" stroke-width="0.15" textLength="5.6" lengthAdjust="spacingAndGlyphs">8</text>
<text x="81.9" y="569.0" font-size="10.6" fill="#2b2f3a" stroke="#2b2f3a" stroke-width="0.15" textLength="25.0" lengthAdjust="spacingAndGlyphs">12:00</text>
<text x="177.8" y="569.0" font-size="10.6" fill="#2b2f3a" stroke="#2b2f3a" stroke-width="0.15" textLength="5.6" lengthAdjust="spacingAndGlyphs">9</text>
<text x="254.4" y="569.0" font-size="10.6" fill="#2b2f3a" stroke="#2b2f3a" stroke-width="0.15" textLength="25.0" lengthAdjust="spacingAndGlyphs">12:00</text>
<text x="347.6" y="569.0" font-size="10.6" fill="#2b2f3a" stroke="#2b2f3a" stroke-width="0.15" textLength="11.2" lengthAdjust="spacingAndGlyphs">10</text>
<text x="427.0" y="569.0" font-size="10.6" fill="#2b2f3a" stroke="#2b2f3a" stroke-width="0.15" textLength="25.0" lengthAdjust="spacingAndGlyphs">12:00</text>
<text x="520.2" y="569.0" font-size="10.6" fill="#2b2f3a" stroke="#2b2f3a" stroke-width="0.15" textLength="11.2" lengthAdjust="spacingAndGlyphs">11</text>
<text x="599.5" y="569.0" font-size="10.6" fill="#2b2f3a" stroke="#2b2f3a" stroke-width="0.15" textLength="25.0" lengthAdjust="spacingAndGlyphs">12:00</text>
<text x="692.8" y="569.0" font-size="10.6" fill="#2b2f3a" stroke="#2b2f3a" stroke-width="0.15" textLength="11.2" lengthAdjust="spacingAndGlyphs">12</text>
<text x="772.2" y="569.0" font-size="10.6" fill="#2b2f3a" stroke="#2b2f3a" stroke-width="0.15" textLength="25.0" lengthAdjust="spacingAndGlyphs">12:00</text>
<text x="865.1" y="569.0" font-size="10.6" fill="#2b2f3a" stroke="#2b2f3a" stroke-width="0" font-weight="bold" textLength="11.8" lengthAdjust="spacingAndGlyphs">13</text>
<text x="930.9" y="569.0" font-size="10.6" fill="#2b2f3a" stroke="#2b2f3a" stroke-width="0.15" textLength="25.0" lengthAdjust="spacingAndGlyphs">10:00</text>
</g>
<text x="9.0" y="16.5" font-size="10.6" fill="#4a4d57" stroke="#4a4d57" stroke-width="0.15" textLength="60.5" lengthAdjust="spacingAndGlyphs">adebowalexy</text>
<text x="73.0" y="16.5" font-size="10.6" fill="#4a4d57" stroke="#4a4d57" stroke-width="0.15" textLength="44.4" lengthAdjust="spacingAndGlyphs">published</text>
<text x="120.9" y="16.5" font-size="10.6" fill="#4a4d57" stroke="#4a4d57" stroke-width="0.15" textLength="10.5" lengthAdjust="spacingAndGlyphs">on</text>
<text x="135.6" y="16.5" font-size="10.6" fill="#4a4d57" stroke="#4a4d57" stroke-width="0.15" textLength="81.0" lengthAdjust="spacingAndGlyphs">TradingView.com,</text>
<text x="221.7" y="16.5" font-size="10.6" fill="#4a4d57" stroke="#4a4d57" stroke-width="0.15" textLength="11.5" lengthAdjust="spacingAndGlyphs">Jun</text>
<text x="238.7" y="16.5" font-size="10.6" fill="#4a4d57" stroke="#4a4d57" stroke-width="0.15" textLength="15.0" lengthAdjust="spacingAndGlyphs">13,</text>
<text x="259.2" y="16.5" font-size="10.6" fill="#4a4d57" stroke="#4a4d57" stroke-width="0.15" textLength="20.9" lengthAdjust="spacingAndGlyphs">2022</text>
<text x="285.2" y="16.5" font-size="10.6" fill="#4a4d57" stroke="#4a4d57" stroke-width="0.15" textLength="24.2" lengthAdjust="spacingAndGlyphs">01:40</text>
<text x="313.5" y="16.5" font-size="10.6" fill="#4a4d57" stroke="#4a4d57" stroke-width="0.15" textLength="18.3" lengthAdjust="spacingAndGlyphs">UTC</text>
<text x="15.4" y="40.1" font-size="10.6" fill="#2b2f3a" stroke="#2b2f3a" stroke-width="0.15" textLength="33.2" lengthAdjust="spacingAndGlyphs">Bitcoin</text>
<text x="53.2" y="40.1" font-size="10.6" fill="#2b2f3a" stroke="#2b2f3a" stroke-width="0.15" textLength="3.1" lengthAdjust="spacingAndGlyphs">/</text>
<text x="60.0" y="40.1" font-size="10.6" fill="#2b2f3a" stroke="#2b2f3a" stroke-width="0.15" textLength="19.3" lengthAdjust="spacingAndGlyphs">U.S.</text>
<text x="82.8" y="40.1" font-size="10.6" fill="#2b2f3a" stroke="#2b2f3a" stroke-width="0.15" textLength="29.7" lengthAdjust="spacingAndGlyphs">Dollar,</text>
<text x="116.6" y="40.1" font-size="10.6" fill="#2b2f3a" stroke="#2b2f3a" stroke-width="0.15" textLength="14.1" lengthAdjust="spacingAndGlyphs">1h,</text>
<text x="134.6" y="40.1" font-size="10.6" fill="#2b2f3a" stroke="#2b2f3a" stroke-width="0.15" textLength="43.8" lengthAdjust="spacingAndGlyphs">BITSTAMP</text>
<text x="185.3" y="40.1" font-size="10.6" fill="#2b2f3a" stroke="#2b2f3a" stroke-width="0.15" textLength="6.5" lengthAdjust="spacingAndGlyphs">O</text>
<text x="192.6" y="40.1" font-size="10.6" fill="#ef5350" stroke="#ef5350" stroke-width="0.15" textLength="41.0" lengthAdjust="spacingAndGlyphs">26265.71</text>
<text x="241.2" y="40.1" font-size="10.6" fill="#2b2f3a" stroke="#2b2f3a" stroke-width="0.15" textLength="6.2" lengthAdjust="spacingAndGlyphs">H</text>
<text x="248.1" y="40.1" font-size="10.6" fill="#ef5350" stroke="#ef5350" stroke-width="0.15" textLength="41.2" lengthAdjust="spacingAndGlyphs">26434.97</text>
<text x="297.0" y="40.1" font-size="10.6" fill="#2b2f3a" stroke="#2b2f3a" stroke-width="0.15" textLength="4.8" lengthAdjust="spacingAndGlyphs">L</text>
<text x="302.4" y="40.1" font-size="10.6" fill="#ef5350" stroke="#ef5350" stroke-width="0.15" textLength="40.9" lengthAdjust="spacingAndGlyphs">25915.58</text>
<text x="350.2" y="40.1" font-size="10.6" fill="#2b2f3a" stroke="#2b2f3a" stroke-width="0.15" textLength="5.7" lengthAdjust="spacingAndGlyphs">C</text>
<text x="356.6" y="40.1" font-size="10.6" fill="#ef5350" stroke="#ef5350" stroke-width="0.15" textLength="41.5" lengthAdjust="spacingAndGlyphs">25991.36</text>
<text x="405.6" y="40.1" font-size="10.6" fill="#ef5350" stroke="#ef5350" stroke-width="0.15" textLength="79.2" lengthAdjust="spacingAndGlyphs">−277.50 (−1.06%)</text>
<text x="15.6" y="54.7" font-size="10.6" fill="#2b2f3a" stroke="#2b2f3a" stroke-width="0.15" textLength="13.7" lengthAdjust="spacingAndGlyphs">MA</text>
<text x="33.8" y="54.7" font-size="10.6" fill="#2b2f3a" stroke="#2b2f3a" stroke-width="0.15" textLength="9.9" lengthAdjust="spacingAndGlyphs">(9,</text>
<text x="48.0" y="54.7" font-size="10.6" fill="#2b2f3a" stroke="#2b2f3a" stroke-width="0.15" textLength="25.3" lengthAdjust="spacingAndGlyphs">close,</text>
<text x="79.5" y="54.7" font-size="10.6" fill="#2b2f3a" stroke="#2b2f3a" stroke-width="0.15" textLength="7.4" lengthAdjust="spacingAndGlyphs">0,</text>
<text x="91.7" y="54.7" font-size="10.6" fill="#2b2f3a" stroke="#2b2f3a" stroke-width="0.15" textLength="20.1" lengthAdjust="spacingAndGlyphs">SMA,</text>
<text x="118.1" y="54.7" font-size="10.6" fill="#2b2f3a" stroke="#2b2f3a" stroke-width="0.15" textLength="8.3" lengthAdjust="spacingAndGlyphs">5)</text>
<text x="133.7" y="54.7" font-size="10.6" fill="#f23645" stroke="#f23645" stroke-width="0.15" textLength="41.3" lengthAdjust="spacingAndGlyphs">27099.61</text>
<text x="15.6" y="69.5" font-size="10.6" fill="#2b2f3a" stroke="#2b2f3a" stroke-width="0.15" textLength="14.4" lengthAdjust="spacingAndGlyphs">MA</text>
<text x="33.8" y="69.5" font-size="10.6" fill="#2b2f3a" stroke="#2b2f3a" stroke-width="0.15" textLength="15.9" lengthAdjust="spacingAndGlyphs">(21,</text>
<text x="54.3" y="69.5" font-size="10.6" fill="#2b2f3a" stroke="#2b2f3a" stroke-width="0.15" textLength="24.8" lengthAdjust="spacingAndGlyphs">close,</text>
<text x="85.3" y="69.5" font-size="10.6" fill="#2b2f3a" stroke="#2b2f3a" stroke-width="0.15" textLength="7.1" lengthAdjust="spacingAndGlyphs">0,</text>
<text x="97.8" y="69.5" font-size="10.6" fill="#2b2f3a" stroke="#2b2f3a" stroke-width="0.15" textLength="19.5" lengthAdjust="spacingAndGlyphs">SMA,</text>
<text x="123.5" y="69.5" font-size="10.6" fill="#2b2f3a" stroke="#2b2f3a" stroke-width="0.15" textLength="8.7" lengthAdjust="spacingAndGlyphs">5)</text>
<text x="139.3" y="69.5" font-size="10.6" fill="#3333ff" stroke="#3333ff" stroke-width="0.15" textLength="41.3" lengthAdjust="spacingAndGlyphs">27353.58</text>
<text x="15.8" y="393.3" font-size="10.6" fill="#2b2f3a" stroke="#2b2f3a" stroke-width="0.15" textLength="14.4" lengthAdjust="spacingAndGlyphs">RSI</text>
<text x="33.3" y="393.3" font-size="10.6" fill="#2b2f3a" stroke="#2b2f3a" stroke-width="0.15" textLength="16.3" lengthAdjust="spacingAndGlyphs">(14,</text>
<text x="54.8" y="393.3" font-size="10.6" fill="#2b2f3a" stroke="#2b2f3a" stroke-width="0.15" textLength="25.4" lengthAdjust="spacingAndGlyphs">close,</text>
<text x="85.2" y="393.3" font-size="10.6" fill="#2b2f3a" stroke="#2b2f3a" stroke-width="0.15" textLength="22.5" lengthAdjust="spacingAndGlyphs">SMA,</text>
<text x="111.7" y="393.3" font-size="10.6" fill="#2b2f3a" stroke="#2b2f3a" stroke-width="0.15" textLength="15.4" lengthAdjust="spacingAndGlyphs">14,</text>
<text x="129.8" y="393.3" font-size="10.6" fill="#2b2f3a" stroke="#2b2f3a" stroke-width="0.15" textLength="8.4" lengthAdjust="spacingAndGlyphs">2)</text>
<text x="145.1" y="393.3" font-size="10.6" fill="#7e57c2" stroke="#7e57c2" stroke-width="0.15" textLength="25.5" lengthAdjust="spacingAndGlyphs">23.69</text>
<text x="177.3" y="393.3" font-size="10.6" fill="#ffeb3b" stroke="#ffeb3b" stroke-width="0.15" textLength="25.2" lengthAdjust="spacingAndGlyphs">38.62</text>
<text x="209.8" y="393.3" font-size="10.6" fill="#2b2f3a" stroke="#2b2f3a" stroke-width="0.15" textLength="6.2" lengthAdjust="spacingAndGlyphs">∅</text>
<text x="223.0" y="393.3" font-size="10.6" fill="#2b2f3a" stroke="#2b2f3a" stroke-width="0.15" textLength="6.6" lengthAdjust="spacingAndGlyphs">∅</text>
<g transform="translate(8.75,586.1) scale(0.4746)" fill="#1e222d"><path d="M14 22H7V11H0V4h14v18zM28 22h-8l7.5-18h8L28 22z"/><circle cx="20" cy="8" r="4"/></g>
<text x="28.7" y="596.3" font-size="11.2" fill="#363a45" stroke="#363a45" stroke-width="0.15" textLength="61.5" lengthAdjust="spacingAndGlyphs">TradingView</text>
</g></svg></body></html>
